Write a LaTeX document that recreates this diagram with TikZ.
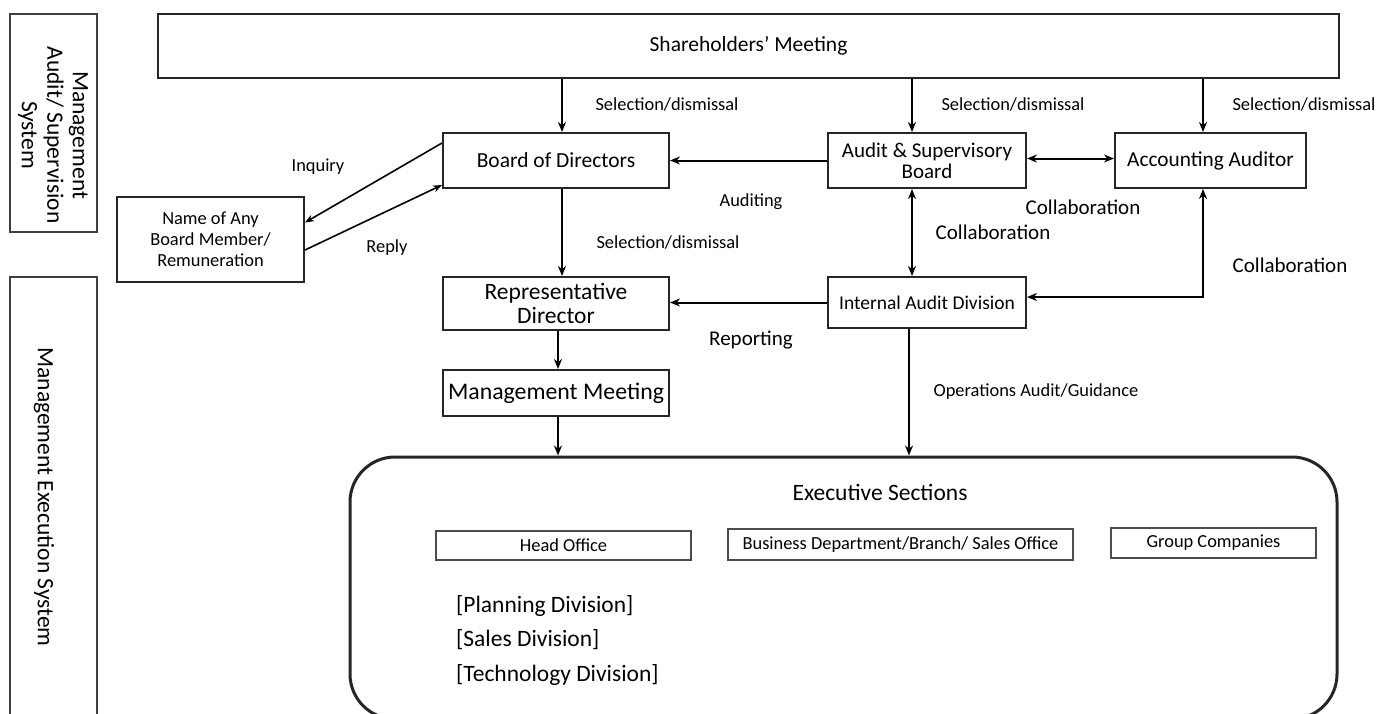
\documentclass[tikz,border=0pt]{standalone}
\usepackage{fontspec}
\setmainfont{Carlito}
\usetikzlibrary{arrows.meta,calc}
\begin{document}
\begin{tikzpicture}[x=1pt,y=-1pt,
 box/.style={draw=black!85, line width=2pt, rectangle, inner sep=0pt, align=center},
 sidebox/.style={draw=black!75, line width=2.5pt, rectangle, inner sep=0pt},
 big/.style={font=\fontsize{21.5}{23}\selectfont},
 huge/.style={font=\fontsize{23.5}{24}\selectfont},
 small/.style={font=\fontsize{18.4}{21}\selectfont},
 lbl/.style={font=\fontsize{18.4}{21}\selectfont, inner sep=0pt},
 lblb/.style={font=\fontsize{21}{23}\selectfont, inner sep=0pt},
 tip/.tip={Stealth[length=10pt,width=8pt]},
 arr/.style={line width=2pt, -tip},
 darr/.style={line width=2pt, tip-tip},
]
\useasboundingbox[fill=white] (0,0) rectangle (1389,713);

% side boxes
\node[sidebox, minimum width=87pt, minimum height=218pt] (mas) at (53.5,123) {};
\node[rotate=-90, align=center, font=\fontsize{23.5}{25.5}\selectfont, inner sep=0pt] (mastxt) at (53,135) {Management\\Audit/ Supervision\\System};
\node[sidebox, minimum width=87pt, minimum height=450pt] (mes) at (53.5,502) {};
\node[rotate=-90, font=\fontsize{23.5}{25.5}\selectfont, inner sep=0pt] (mestxt) at (44,497) {Management Execution System};

% main boxes
\node[box, minimum width=1181pt, minimum height=64pt, big] (sh) at (748.5,45.5) {Shareholders’ Meeting};
\node[box, minimum width=226pt, minimum height=55pt, big] (bod) at (556,160.5) {Board of Directors};
\node[box, minimum width=198pt, minimum height=55pt, font=\fontsize{21}{21}\selectfont] (asb) at (927,160.5) {Audit \& Supervisory\\Board};
\node[box, minimum width=191pt, minimum height=55pt, font=\fontsize{21.3}{23}\selectfont] (aa) at (1210.5,160.5) {Accounting Auditor};
\node[box, minimum width=187pt, minimum height=85pt, font=\fontsize{18.4}{21}\selectfont] (nm) at (210.5,239.5) {Name of Any\\Board Member/\\Remuneration};
\node[box, minimum width=226pt, minimum height=53pt, font=\fontsize{23.5}{24}\selectfont] (rd) at (556,303.5) {Representative\\Director};
\node[box, minimum width=198pt, minimum height=51pt, font=\fontsize{19.5}{22}\selectfont] (iad) at (927,302.5) {Internal Audit Division};
\node[box, minimum width=226pt, minimum height=46pt, font=\fontsize{23.8}{24}\selectfont] (mm) at (556,393) {Management Meeting};

% executive sections
\node[draw=black!85, line width=3pt, rounded corners=45pt, minimum width=987pt, minimum height=262pt, inner sep=0pt] (ex) at (843.5,588) {};
\node[font=\fontsize{23.5}{25}\selectfont, inner sep=0pt] (extitle) at (880,492) {Executive Sections};
\node[box, draw=black!70, minimum width=255pt, minimum height=29pt, small] (ho) at (563.5,545.5) {Head Office};
\node[box, draw=black!70, minimum width=345pt, minimum height=31pt, small] (bd) at (900.5,544.5) {Business Department/Branch/ Sales Office};
\node[box, draw=black!70, minimum width=205pt, minimum height=30pt, small] (gc) at (1213.5,543) {Group Companies};
\node[font=\fontsize{23.5}{25}\selectfont, inner sep=0pt, anchor=west] (d1) at (456,606) {[Planning Division]};
\node[font=\fontsize{23.5}{25}\selectfont, inner sep=0pt, anchor=west] (d2) at (456,640) {[Sales Division]};
\node[font=\fontsize{23.5}{25}\selectfont, inner sep=0pt, anchor=west] (d3) at (456,675) {[Technology Division]};

% connectors
\draw[arr] (562,0 |- sh.south) -- (562,0 |- bod.north);
\draw[arr] (912,0 |- sh.south) -- (912,0 |- asb.north);
\draw[arr] (1203,0 |- sh.south) -- (1203,0 |- aa.north);
\draw[arr] (asb.west) -- (bod.east);
\draw[darr] ([yshift=2pt]asb.east) -- ([yshift=2pt]aa.west);
\draw[darr] (912,0 |- asb.south) -- (912,0 |- iad.north);
\draw[darr] (1203,0 |- aa.south) |- ([yshift=5.5pt]iad.east);
\draw[arr] (562,0 |- bod.south) -- (562,0 |- rd.north);
\draw[arr] (iad.west) -- (iad.west -| rd.east);
\draw[arr] (558,0 |- rd.south) -- (558,0 |- mm.north);
\draw[arr] (558,0 |- mm.south) -- (558,0 |- ex.north);
\draw[arr] (909,0 |- iad.south) -- (909,0 |- ex.north);
\draw[line width=1.6pt, -{Stealth[length=9pt,width=7pt]}] ([yshift=17.5pt]bod.west) -- ([yshift=17pt]nm.east);
\draw[line width=1.6pt, -{Stealth[length=9pt,width=7pt]}] ([yshift=-10.5pt]nm.east) -- ([yshift=-24.5pt]bod.west);

% labels
\node[lbl] (s1) at (667,104) {Selection/dismissal};
\node[lbl] (s2) at (1013,104) {Selection/dismissal};
\node[lbl] (s3) at (1304,104) {Selection/dismissal};
\node[lbl] (s4) at (668,242) {Selection/dismissal};
\node[lbl] (aud) at (751,202) {Auditing};
\node[lblb] (c1) at (1083,207) {Collaboration};
\node[lblb] (c2) at (993,232) {Collaboration};
\node[lblb] (c3) at (1290,265) {Collaboration};
\node[lblb] (rep) at (751,340) {Reporting};
\node[lbl] (ops) at (1036,392) {Operations Audit/Guidance};
\node[lbl] (inq) at (318,167) {Inquiry};
\node[lbl] (rpl) at (387,248) {Reply};
\end{tikzpicture}
\end{document}
